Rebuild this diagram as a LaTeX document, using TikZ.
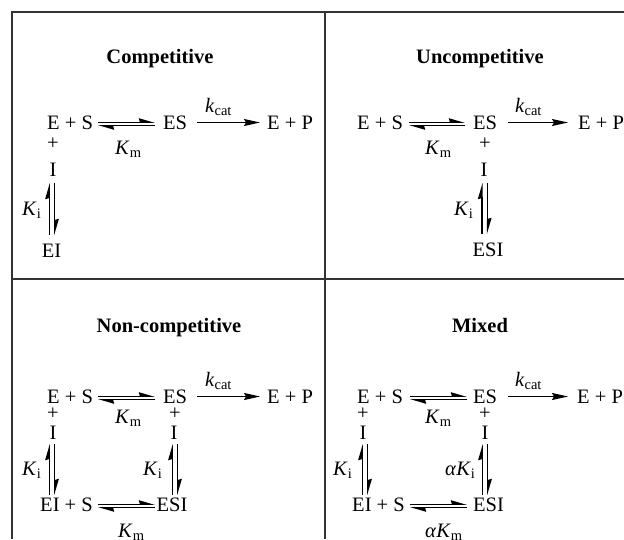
\documentclass[tikz,border=0pt]{standalone}
\usepackage{fontspec}
\setmainfont{Liberation Serif}
\usetikzlibrary{arrows.meta}
\newcommand\sbs[1]{\raisebox{-3.5pt}{\fontsize{14.5}{14.5}\selectfont #1}}
\newcommand\myKm{\textit{K}\sbs{m}}
\newcommand\myKi{\textit{K}\sbs{i}}
\newcommand\mykcat{\textit{k}\sbs{cat}}
\newcommand\heq[4]{%
  \coordinate (#1L) at (#2,#4); \coordinate (#1R) at (#3,#4);
  \draw[eqarrow] ([yshift=1.7pt]#1L) -- ([yshift=1.7pt]#1R);
  \draw[eqarrow] ([yshift=-1.7pt]#1R) -- ([yshift=-1.7pt]#1L);}
\newcommand\veq[4]{%
  \coordinate (#1T) at (#2,#3); \coordinate (#1B) at (#2,#4);
  \draw[eqarrow] ([xshift=-2.8pt]#1B) -- ([xshift=-2.8pt]#1T);
  \draw[eqarrow] ([xshift=2.8pt]#1T) -- ([xshift=2.8pt]#1B);}
\newcommand\fwdarrow[4]{%
  \coordinate (#1L) at (#2,#4); \coordinate (#1R) at (#3,#4);
  \draw[fwd] (#1L) -- (#1R);}
\begin{document}
\begin{tikzpicture}[x=1pt,y=-1pt,
  txt/.style={inner sep=0pt, font=\fontsize{20.5}{24}\selectfont, text=black},
  ttl/.style={inner sep=0pt, font=\fontsize{20.5}{24}\selectfont\bfseries, text=black},
  frame/.style={line width=1.4pt, draw=black!80},
  eqarrow/.style={line width=1.2pt, -{Stealth[harpoon,length=14pt,width=8pt,inset=1pt]}},
  fwd/.style={line width=1.2pt, -{Stealth[length=16pt,width=7pt,inset=2pt]}}]
\useasboundingbox (0,0) rectangle (624,539);
\fill[white] (0,0) rectangle (624,539);
% frame
\draw[frame] (624,12) -- (12,12) -- (12,539);
\draw[frame] (325,12) -- (325,539);
\draw[frame] (12,279) -- (624,279);

% ---------- Competitive ----------
\node[ttl, anchor=base] (t1) at (160,63) {Competitive};
\node[txt, anchor=base west] (a1) at (47,129) {E + S};
\heq{h1}{98}{155}{124}
\node[txt, anchor=base west] (a1km) at (115,154) {\myKm};
\node[txt, anchor=base west] (a1es) at (163,129) {ES};
\fwdarrow{k1}{197}{260}{122.5}
\node[txt, anchor=base west] (a1k) at (205,112) {\mykcat};
\node[txt, anchor=base west] (a1ep) at (267,129) {E + P};
\node[txt, anchor=base] (a1p) at (53,149) {+};
\node[txt, anchor=base] (a1i) at (53,176) {I};
\veq{v1}{52}{183}{235}
\node[txt, anchor=base west] (a1ki) at (22,215) {\myKi};
\node[txt, anchor=base] (a1ei) at (51.5,257) {EI};

% ---------- Uncompetitive ----------
\node[ttl, anchor=base] (t2) at (480,63) {Uncompetitive};
\node[txt, anchor=base west] (a2) at (357,129) {E + S};
\heq{h2}{409}{465}{124}
\node[txt, anchor=base west] (a2km) at (425,154) {\myKm};
\node[txt, anchor=base west] (a2es) at (473,129) {ES};
\fwdarrow{k2}{508}{568}{122.5}
\node[txt, anchor=base west] (a2k) at (515,112) {\mykcat};
\node[txt, anchor=base west] (a2ep) at (578,129) {E + P};
\node[txt, anchor=base] (a2p) at (485,149) {+};
\node[txt, anchor=base] (a2i) at (484,176) {I};
\veq{v2}{484.7}{183}{234}
\node[txt, anchor=base west] (a2ki) at (454,215) {\myKi};
\node[txt, anchor=base] (a2esi) at (488,256) {ESI};

% ---------- Non-competitive ----------
\node[ttl, anchor=base] (t3) at (169,332) {Non-competitive};
\node[txt, anchor=base west] (a3) at (47,403) {E + S};
\heq{h3}{98}{155}{398}
\node[txt, anchor=base west] (a3km) at (115,423) {\myKm};
\node[txt, anchor=base west] (a3es) at (163,403) {ES};
\fwdarrow{k3}{197}{260}{396.5}
\node[txt, anchor=base west] (a3k) at (205,386) {\mykcat};
\node[txt, anchor=base west] (a3ep) at (267,403) {E + P};
\node[txt, anchor=base] (a3p) at (53,419) {+};
\node[txt, anchor=base] (a3i) at (53,439) {I};
\veq{v3}{52}{444}{495}
\node[txt, anchor=base west] (a3ki) at (22,475) {\myKi};
\node[txt, anchor=base] (a3p2) at (175,419) {+};
\node[txt, anchor=base] (a3i2) at (174,439) {I};
\veq{v4}{175}{444}{495}
\node[txt, anchor=base west] (a3ki2) at (143,475) {\myKi};
\node[txt, anchor=base east] (a3eis) at (93,511) {EI + S};
\heq{h4}{98}{155}{506}
\node[txt, anchor=base] (a3esi) at (172,511) {ESI};
\node[txt, anchor=base west] (a3km2) at (118,537) {\myKm};

% ---------- Mixed ----------
\node[ttl, anchor=base] (t4) at (480,332) {Mixed};
\node[txt, anchor=base west] (a4) at (357,403) {E + S};
\heq{h5}{410}{467}{398}
\node[txt, anchor=base west] (a4km) at (425,423) {\myKm};
\node[txt, anchor=base west] (a4es) at (473,403) {ES};
\fwdarrow{k4}{508}{568}{396.5}
\node[txt, anchor=base west] (a4k) at (515,386) {\mykcat};
\node[txt, anchor=base west] (a4ep) at (577,403) {E + P};
\node[txt, anchor=base] (a4p) at (363,419) {+};
\node[txt, anchor=base] (a4i) at (363,439) {I};
\veq{v5}{365}{444}{495}
\node[txt, anchor=base west] (a4ki) at (333,475) {\myKi};
\node[txt, anchor=base] (a4p2) at (485,419) {+};
\node[txt, anchor=base] (a4i2) at (485,439) {I};
\veq{v6}{485}{444}{495}
\node[txt, anchor=base west] (a4aki) at (445,475) {\textit{α}\myKi};
\node[txt, anchor=base east] (a4eis) at (405,511) {EI + S};
\heq{h6}{410}{467}{506}
\node[txt, anchor=base west] (a4esi) at (473,511) {ESI};
\node[txt, anchor=base west] (a4akm) at (425,537) {\textit{α}\myKm};
\end{tikzpicture}
\end{document}
